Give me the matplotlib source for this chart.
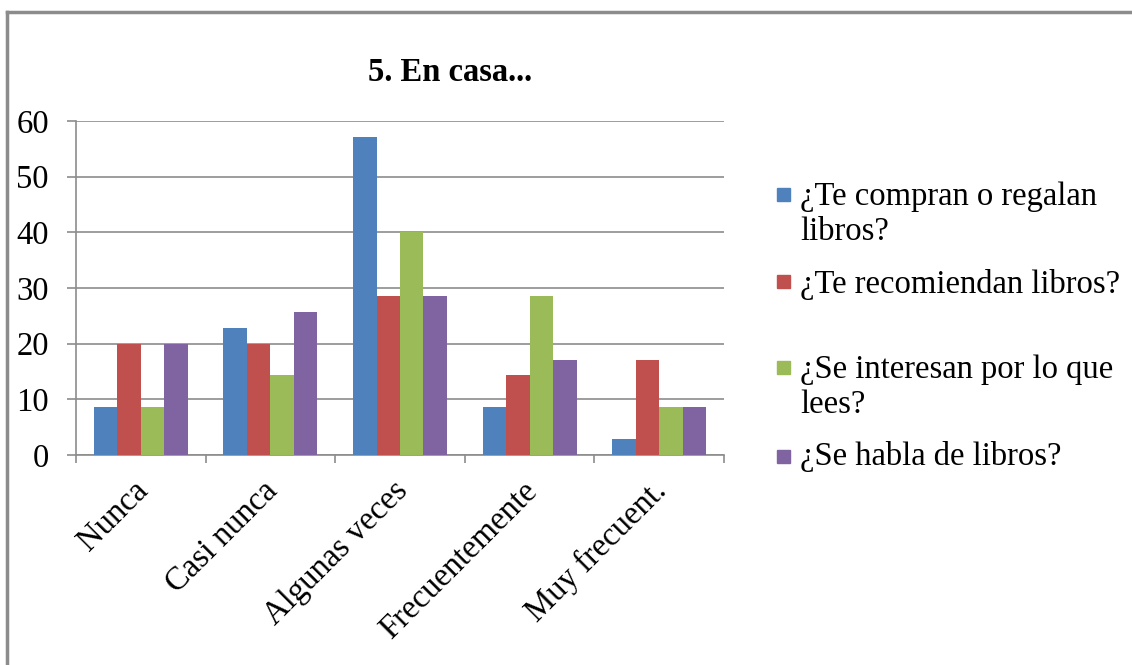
import matplotlib.pyplot as plt
import matplotlib.patches as mpatches
import matplotlib.transforms as mtransforms
from matplotlib.lines import Line2D
import numpy as np

plt.rcParams['font.family'] = ['Liberation Serif', 'DejaVu Serif']

categorias = ['Nunca', 'Casi nunca', 'Algunas veces', 'Frecuentemente', 'Muy frecuent.']
series = [['¿Te compran o regalan', 'libros?'], ['¿Te recomiendan libros?'],
          ['¿Se interesan por lo que', 'lees?'], ['¿Se habla de libros?']]
compran = [8.6, 22.9, 57.1, 8.6, 2.9]
recomiendan = [20.0, 20.0, 28.6, 14.3, 17.1]
interesan = [8.6, 14.3, 40.0, 28.6, 8.6]
habla = [20.0, 25.7, 28.6, 17.1, 8.6]
valores = [compran, recomiendan, interesan, habla]
colores = ['#4F81BD', '#C0504D', '#9BBB59', '#8064A2']

W, H = 1132, 665
fs = 23.5
fig = plt.figure(figsize=(W / 100, H / 100), dpi=100)
ax = fig.add_axes([76 / W, (H - 455) / H, 648 / W, 334 / H])

x = np.arange(len(categorias))
bw = 0.181
for i, vals in enumerate(valores):
    ax.bar(x + (i - 1.5) * bw, vals, width=bw, color=colores[i], zorder=3)

gris = '#8C8C8C'
ax.set_xlim(-0.5, len(categorias) - 0.5)
ax.set_ylim(0, 60)
ax.set_yticks(range(0, 61, 10))
ax.yaxis.grid(True, color=gris, linewidth=1.2, zorder=0)
for s in ['top', 'right']:
    ax.spines[s].set_visible(False)
for s in ['left', 'bottom']:
    ax.spines[s].set_color(gris)
    ax.spines[s].set_linewidth(1.2)

ax.set_xticks(x)
ax.set_xticklabels(categorias, rotation=45, ha='right', rotation_mode='anchor', fontsize=fs)
ax.tick_params(axis='x', which='major', length=0, pad=12)
# desplazar un poco las etiquetas (izq./abajo)
desp = mtransforms.ScaledTranslation(-8 / 100, -4 / 100, fig.dpi_scale_trans)
for lbl in ax.get_xticklabels():
    lbl.set_transform(lbl.get_transform() + desp)
ax.set_xticks(np.arange(-0.5, len(categorias)), minor=True)
ax.tick_params(axis='x', which='minor', length=6, color=gris, width=1.2)
ax.tick_params(axis='y', length=6.5, color=gris, width=1.2, pad=13, labelsize=fs)

fig.text(450 / W, 1 - 81 / H, '5. En casa...', ha='center', va='baseline',
         fontsize=fs, fontweight='bold')

# leyenda manual
caja_y = [195, 282, 367, 456]
base_y = [[205, 240], [293], [378, 413], [465]]
for i in range(len(series)):
    yc = 1 - caja_y[i] / H
    fig.patches.append(mpatches.Rectangle((777 / W, yc - 6.5 / H), 13 / W, 13 / H,
                                          transform=fig.transFigure, color=colores[i]))
    for linea, by in zip(series[i], base_y[i]):
        fig.text(800 / W, 1 - by / H, linea, ha='left', va='baseline', fontsize=fs)

# marco
fig.add_artist(Line2D([7 / W, 7 / W], [0, 1 - 12 / H], transform=fig.transFigure,
                      color=gris, linewidth=2.5))
fig.add_artist(Line2D([7 / W, 1], [1 - 12 / H, 1 - 12 / H], transform=fig.transFigure,
                      color=gris, linewidth=2.5))

fig.savefig('out.png', dpi=100)
